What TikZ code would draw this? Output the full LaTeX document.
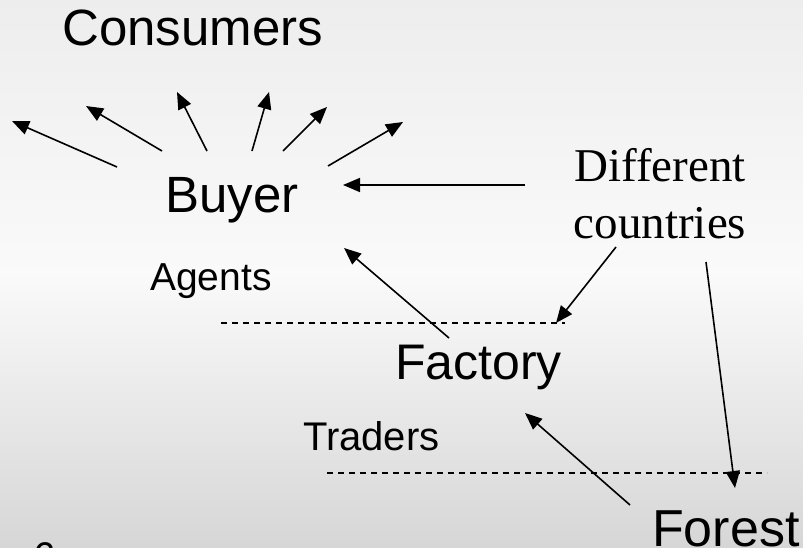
\documentclass[tikz,border=0pt]{standalone}
\usepackage{fontspec}
\setmainfont{Liberation Sans}
\newfontfamily\timesfont{Liberation Serif}
\usetikzlibrary{arrows.meta, calc}

\tikzset{
    label text/.style = {anchor = base west, inner sep = 0pt},
    flow/.style = {line width = 1.6pt, -{Triangle[length = 17pt, width = 14pt]}},
    layer/.style = {line width = 1.2pt, dash pattern = on 6pt off 5pt}
}

\begin{document}
\begin{tikzpicture}[x = 1pt, y = -1pt]%{{{
                % misty background
                \shade [top color = gray!14, bottom color = gray!32, middle color = white!96!gray]
                    (0, 0) rectangle (803, 548);
                \useasboundingbox (0, 0) rectangle (803, 548);

                \node (consumers) [label text, font = \fontsize{51}{51}\selectfont] at (62, 46) {Consumers};
                \node (buyer) [label text, font = \fontsize{51}{51}\selectfont] at (165, 213) {Buyer};
                \node (agents) [label text, font = \fontsize{39}{39}\selectfont] at (150, 290) {Agents};
                \node (factory) [label text, font = \fontsize{50}{50}\selectfont] at (395, 379) {Factory};
                \node (traders) [label text, font = \fontsize{40}{40}\selectfont] at (303, 450) {Traders};
                \node (forest) [label text, font = \fontsize{52}{52}\selectfont] at (652, 546) {Forest};
                \node (countries) [anchor = north, inner sep = 0pt, align = center,
                    font = \timesfont\fontsize{47}{57}\selectfont] at (660, 148) {Different\\countries};
                \node (page) [label text, font = \fontsize{40}{40}\selectfont] at (33, 570) {6};

                % arrows out of the buyer
                \coordinate (b1) at (117, 167); \coordinate (c1) at (12, 121);
                \coordinate (b2) at (162, 151); \coordinate (c2) at (86, 106);
                \coordinate (b3) at (207, 151); \coordinate (c3) at (177, 92);
                \coordinate (b4) at (252, 151); \coordinate (c4) at (269, 92);
                \coordinate (b5) at (283, 151); \coordinate (c5) at (327, 107);
                \coordinate (b6) at (328, 166); \coordinate (c6) at (403, 122);

                \draw [flow] (b1) -- (c1);
                \draw [flow] (b2) -- (c2);
                \draw [flow] (b3) -- (c3);
                \draw [flow] (b4) -- (c4);
                \draw [flow] (b5) -- (c5);
                \draw [flow] (b6) -- (c6);

                % arrows from the countries label
                \coordinate (d1) at (525, 185); \coordinate (e1) at (343, 185);
                \coordinate (d2) at (616, 247); \coordinate (e2) at (556, 323);
                \coordinate (d3) at (706, 262); \coordinate (e3) at (735, 488);

                \draw [flow] (d1) -- (e1);
                \draw [flow] (d2) -- (e2);
                \draw [flow] (d3) -- (e3);

                % up the chain
                \coordinate (f1) at (449, 338); \coordinate (g1) at (344, 248);
                \coordinate (f2) at (630, 505); \coordinate (g2) at (525, 413);

                \draw [flow] (f1) -- (g1);
                \draw [flow] (f2) -- (g2);

                % dashed borders
                \coordinate (h1) at (221, 323); \coordinate (k1) at (565, 323);
                \coordinate (h2) at (327, 473); \coordinate (k2) at (767, 473);

                \draw [layer] (h1) -- (k1);
                \draw [layer] (h2) -- (k2);
            \end{tikzpicture}
\end{document}
